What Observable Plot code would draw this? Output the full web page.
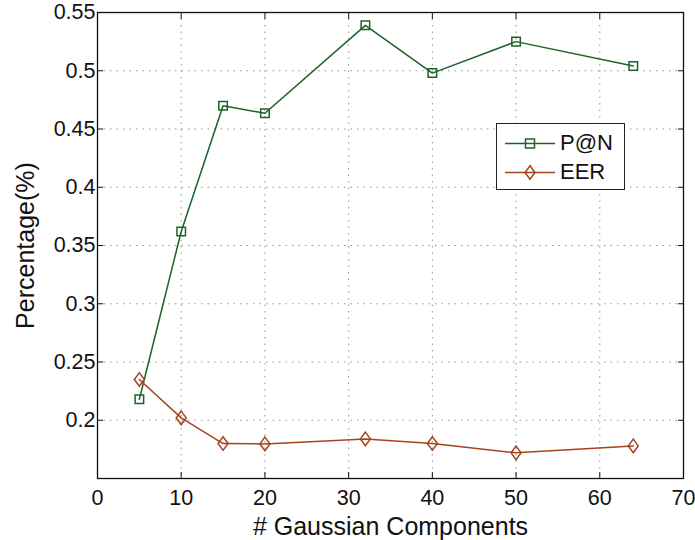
<!DOCTYPE html>
<html>
<head>
<meta charset="utf-8">
<script src="https://cdn.jsdelivr.net/npm/d3@7"></script>
<script src="https://cdn.jsdelivr.net/npm/@observablehq/plot@0.6"></script>
<style>
  body { margin: 0; background: #fff; }
  #wrap { position: relative; width: 695px; height: 540px; font-family: "Liberation Sans", Arial, sans-serif; }
  #legend { position: absolute; left: 496px; top: 123px; width: 129px; height: 67px; border: 1.3px solid #222; background: #fff; box-sizing: border-box; }
  .row { position: absolute; left: 8px; height: 24px; display: flex; align-items: center; font-size: 22px; color: #111; }
  .row svg { margin-right: 5px; }
</style>
</head>
<body>
<div id="wrap"></div>
<script>
const components = [5, 10, 15, 20, 32, 40, 50, 64];
const pAtN = [0.218, 0.362, 0.470, 0.4635, 0.539, 0.498, 0.525, 0.504];
const eer  = [0.235, 0.202, 0.180, 0.1797, 0.184, 0.180, 0.172, 0.178];
const xTicks = [0, 10, 20, 30, 40, 50, 60, 70];
const yTicks = [0.2, 0.25, 0.3, 0.35, 0.4, 0.45, 0.5, 0.55];
const seriesNames = ["P@N", "EER"];
const colors = ["#1b6328", "#a5441b"];

const pRows = components.map((x, i) => ({x, y: pAtN[i]}));
const eRows = components.map((x, i) => ({x, y: eer[i]}));

// MATLAB-like narrow diamond
const tallDiamond = {
  draw(context, size) {
    const w = 5, h = 6.8;
    context.moveTo(0, -h);
    context.lineTo(w, 0);
    context.lineTo(0, h);
    context.lineTo(-w, 0);
    context.closePath();
  }
};

const chart = Plot.plot({
  width: 695, height: 540,
  marginLeft: 97, marginRight: 12, marginTop: 12, marginBottom: 62,
  style: {fontFamily: "Liberation Sans, Arial, sans-serif", fontSize: "21px", color: "#111", background: "#fff"},
  x: {domain: [0, 70], ticks: xTicks, label: null},
  y: {domain: [0.15, 0.55], ticks: yTicks, label: null},
  marks: [
    Plot.gridX(xTicks, {stroke: "#666", strokeOpacity: 0.7, strokeDasharray: "1.5,5"}),
    Plot.gridY(yTicks, {stroke: "#666", strokeOpacity: 0.7, strokeDasharray: "1.5,5"}),
    Plot.frame({stroke: "#111", strokeWidth: 1.3}),
    Plot.axisX(xTicks, {anchor: "bottom", tickSize: -6, tickPadding: 17, fontSize: 21.5, fill: "#111", tickFormat: d => d}),
    Plot.axisX(xTicks, {anchor: "top", tickSize: -6, tickFormat: () => ""}),
    Plot.axisY(yTicks, {anchor: "left", tickSize: -6, tickPadding: 8, fontSize: 21.5, fill: "#111", tickFormat: d => String(d)}),
    Plot.axisY(yTicks, {anchor: "right", tickSize: -6, tickFormat: () => ""}),
    Plot.line(pRows, {x: "x", y: "y", stroke: colors[0], strokeWidth: 1.5}),
    Plot.line(eRows, {x: "x", y: "y", stroke: colors[1], strokeWidth: 1.5}),
    Plot.dot(pRows, {x: "x", y: "y", symbol: "square", r: 4.8, stroke: colors[0], fill: "none", strokeWidth: 1.5}),
    Plot.dot(eRows, {x: "x", y: "y", symbol: tallDiamond, r: 6, stroke: colors[1], fill: "none", strokeWidth: 1.5}),
    Plot.text(["# Gaussian Components"], {frameAnchor: "bottom", textAnchor: "middle", lineAnchor: "middle", dy: 48, fontSize: 25, fill: "#111", text: d => d}),
    Plot.text(["Percentage(%)"], {frameAnchor: "left", textAnchor: "middle", lineAnchor: "middle", dx: -72, rotate: -90, fontSize: 25, fill: "#111", text: d => d})
  ]
});

const wrap = document.getElementById("wrap");
wrap.appendChild(chart);

const legend = document.createElement("div");
legend.id = "legend";
const symbols = [
  '<rect x="20.5" y="7" width="9" height="9" fill="none" stroke="COL" stroke-width="1.5"/>',
  '<path d="M25,4.7 L30,11.5 L25,18.3 L20,11.5 Z" fill="none" stroke="COL" stroke-width="1.5"/>'
];
seriesNames.forEach((name, i) => {
  const row = document.createElement("div");
  row.className = "row";
  row.style.top = (i === 0 ? 7 : 36) + "px";
  row.innerHTML = `<svg width="50" height="23"><line x1="0" x2="50" y1="11.5" y2="11.5" stroke="${colors[i]}" stroke-width="1.5"/>${symbols[i].replace("COL", colors[i])}</svg><span>${name}</span>`;
  legend.appendChild(row);
});
wrap.appendChild(legend);
</script>
</body>
</html>
